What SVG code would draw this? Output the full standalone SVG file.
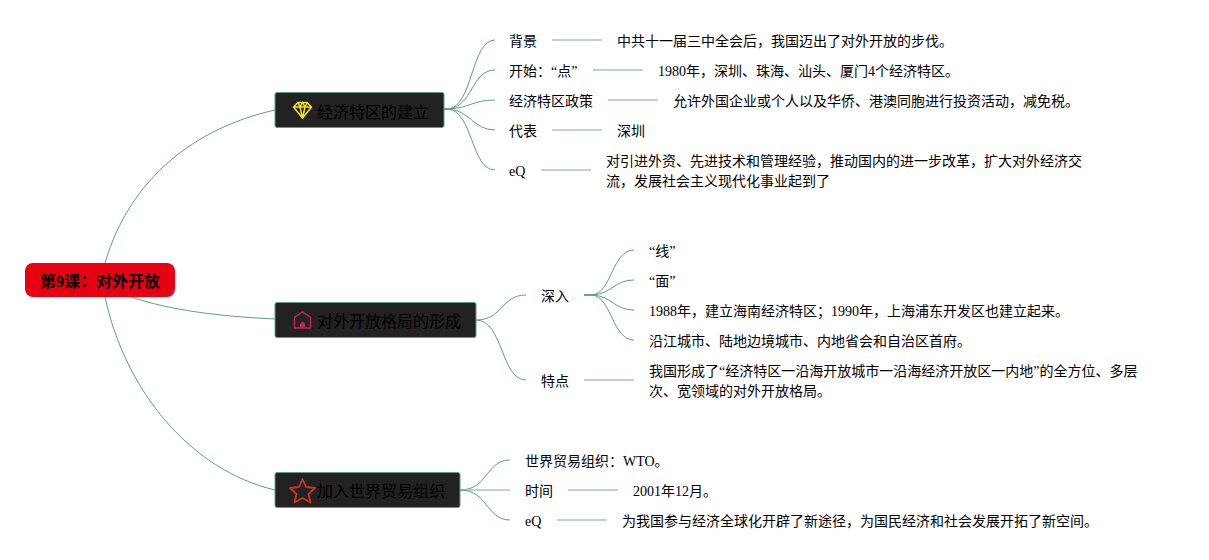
<svg xmlns="http://www.w3.org/2000/svg" width="1209" height="560" viewBox="0 0 1209 560">
<style>
text{font-family:"Liberation Serif","Noto Sans CJK SC",serif;fill:#000}
.t{font-size:14px}
.n{font-size:16px}
.r{font-size:16px;font-weight:bold}
.c{fill:none;stroke:#5f9c8b;stroke-width:1}
.l{fill:none;stroke:#a6c6bc;stroke-width:1.5}
.b{fill:#222222;stroke:#5f9c8b;stroke-width:1}
</style>
<rect width="1209" height="560" fill="#fff"/>
<g id="connectors">
<path class="c" d="M105 263C130 178 195 128 275 110"/>
<path class="c" d="M131 297C170 310 215 316 275 319"/>
<path class="c" d="M105 297C125 390 190 470 275 490"/>
<path class="c" d="M444 109H448C473 107 471 40 495 40"/>
<path class="c" d="M444 109H448C473 107 471 70 495 70"/>
<path class="c" d="M444 109H448C470 108 473 100 495 100"/>
<path class="c" d="M444 109H448C470 110 473 130 495 130"/>
<path class="c" d="M444 109H448C473 111 471 170 495 170"/>
<path class="c" d="M476 320C503 320 501 295 526 295"/>
<path class="c" d="M476 320C503 320 501 380 526 380"/>
<path class="c" d="M584 295H592C612 293 612 250 634 250"/>
<path class="c" d="M584 295H592C612 294 614 280 634 280"/>
<path class="c" d="M584 295H592C612 296 614 310 634 310"/>
<path class="c" d="M584 295H592C612 297 612 340 634 340"/>
<path class="c" d="M460 490C488 490 486 460 510 460"/>
<path class="l" d="M460 490H510"/>
<path class="c" d="M460 490C488 490 486 520 510 520"/>
<path class="l" d="M552 40H602M593 70H643M608 100H658M552 130H602M541 170H591M584 380H634M568 490H618M557 520H607"/>
</g>
<g id="root"><rect x="25" y="263" width="150" height="34" rx="8" fill="#e60012"/><text class="r" x="40" y="287">第9课：对外开放</text></g>
<g id="n1"><rect class="b" x="275" y="92.500" width="169" height="35" rx="2"/>
<path d="M298 102.500H307L311.500 107L302.500 118L293.500 107ZM293.500 107H311.500M298 102.500L300 107L302.500 118L305 107L307 102.500M300 107L302.500 102.500L305 107" fill="none" stroke="#f2e224" stroke-width="1.500"/>
<text class="n" x="317" y="118">经济特区的建立</text></g>
<g id="n2"><rect class="b" x="275" y="302.500" width="201" height="35" rx="2"/>
<path d="M294.500 328V317.500L302.500 312L310.500 317.500V328Z" fill="none" stroke="#c2264f" stroke-width="1.500"/><path d="M300 328V324.500A2.500 2.500 0 0 1 305 324.500V328Z" fill="#c2264f"/>
<text class="n" x="317" y="327">对外开放格局的形成</text></g>
<g id="n3"><rect class="b" x="275" y="472.500" width="185" height="35" rx="2"/>
<path d="M302.500 479L306 487L315 488L308.500 494L310.500 502.500L302.500 498L294.500 502.500L296.500 494L290 488L299 487Z" fill="none" stroke="#d2321e" stroke-width="1.800" stroke-linejoin="round"/>
<text class="n" x="317" y="497">加入世界贸易组织</text></g>
<g id="a1"><text class="t" x="509" y="46">背景</text></g>
<g id="a1b"><text class="t" x="617" y="46">中共十一届三中全会后，我国迈出了对外开放的步伐。</text></g>
<g id="a2"><text class="t" x="509" y="76">开始：“点”</text></g>
<g id="a2b"><text class="t" x="658" y="76">1980年，深圳、珠海、汕头、厦门4个经济特区。</text></g>
<g id="a3"><text class="t" x="509" y="106">经济特区政策</text></g>
<g id="a3b"><text class="t" x="673" y="106">允许外国企业或个人以及华侨、港澳同胞进行投资活动，减免税。</text></g>
<g id="a4"><text class="t" x="509" y="136">代表</text></g>
<g id="a4b"><text class="t" x="617" y="136">深圳</text></g>
<g id="a5"><text class="t" x="509" y="176">eQ</text></g>
<g id="a5b"><text class="t" x="606" y="166">对引进外资、先进技术和管理经验，推动国内的进一步改革，扩大对外经济交</text><text class="t" x="606" y="186">流，发展社会主义现代化事业起到了</text></g>
<g id="b1"><text class="t" x="541" y="301">深入</text></g>
<g id="b1a"><text class="t" x="649" y="256">“线”</text></g>
<g id="b1b"><text class="t" x="649" y="286">“面”</text></g>
<g id="b1c"><text class="t" x="649" y="316">1988年，建立海南经济特区；1990年，上海浦东开发区也建立起来。</text></g>
<g id="b1d"><text class="t" x="649" y="346">沿江城市、陆地边境城市、内地省会和自治区首府。</text></g>
<g id="b2"><text class="t" x="541" y="386">特点</text></g>
<g id="b2b"><text class="t" x="649" y="376">我国形成了“经济特区一沿海开放城市一沿海经济开放区一内地”的全方位、多层</text><text class="t" x="649" y="396">次、宽领域的对外开放格局。</text></g>
<g id="c1"><text class="t" x="525" y="466">世界贸易组织：WTO。</text></g>
<g id="c2"><text class="t" x="525" y="496">时间</text></g>
<g id="c2b"><text class="t" x="633" y="496">2001年12月。</text></g>
<g id="c3"><text class="t" x="525" y="526">eQ</text></g>
<g id="c3b"><text class="t" x="622" y="526">为我国参与经济全球化开辟了新途径，为国民经济和社会发展开拓了新空间。</text></g>
</svg>
